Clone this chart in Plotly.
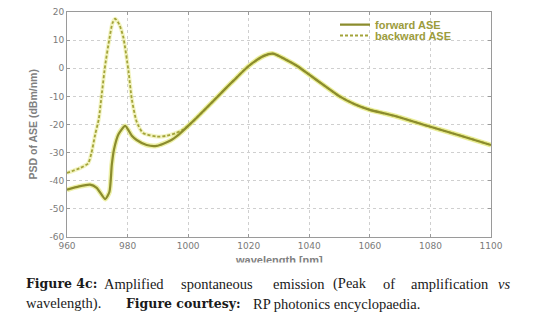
import plotly.graph_objects as go

# ---------------- data ----------------
wl_forward = [960, 964, 967.6, 969.8, 972.6, 974.0, 974.8, 975.5, 977.0, 979.2,
              981.4, 983.0, 986.3, 989.6, 994.0, 997.0, 1000, 1003, 1008, 1012,
              1015, 1020, 1025, 1028, 1032, 1036, 1040, 1045, 1050, 1055,
              1060, 1065, 1070, 1080, 1090, 1100]
psd_forward = [-43.2, -42.0, -41.4, -42.5, -46.5, -44.0, -34.3, -29.0, -23.5, -20.5,
               -24.0, -25.5, -27.3, -27.6, -25.8, -23.5, -20.5, -17.4, -12.0, -7.6,
               -4.4, 0.8, 4.4, 5.2, 3.2, 0.8, -2.3, -6.2, -10.0, -12.8,
               -14.8, -16.1, -17.5, -20.8, -24.0, -27.3]

wl_backward = [960, 964.3, 967.0, 968.1, 969.3, 970.5, 971.5, 972.6, 974.0, 975.0,
               975.9, 977.3, 978.6, 980.3, 981.4, 983.0, 985.1, 989.7, 993.0, 996.0,
               998.0, 1000, 1003, 1008, 1012, 1015, 1020, 1025, 1028, 1032,
               1036, 1040, 1045, 1050, 1055, 1060, 1065, 1070, 1080, 1090, 1100]
psd_backward = [-37.2, -35.5, -33.8, -30.0, -23.6, -18.0, -9.0, 1.0, 10.5, 16.0,
                17.6, 15.5, 11.0, -1.0, -11.0, -19.0, -23.0, -24.3, -24.0, -23.0,
                -22.0, -20.5, -17.4, -12.0, -7.6, -4.4, 0.8, 4.4, 5.2, 3.2,
                0.8, -2.3, -6.2, -10.0, -12.8, -14.8, -16.1, -17.5, -20.8, -24.0, -27.3]

x_ticks = [960, 980, 1000, 1020, 1040, 1060, 1080, 1100]
y_ticks = [-60, -50, -40, -30, -20, -10, 0, 10, 20]

series_names = ["forward ASE", "backward ASE"]
x_title = "wavelength [nm]"
y_title = "PSD of ASE (dBm/nm)"

# ---------------- layout geometry ----------------
W, H = 540, 326
L, R, T, B = 67, 491, 7, 237


def px(x):
    return (x - L) / (R - L)


def py(y):
    return (B - y) / (B - T)


fig = go.Figure()

# glow under the lines (jpeg-like halo)
fig.add_trace(go.Scatter(x=wl_backward, y=psd_backward, mode="lines", showlegend=False,
                         hoverinfo="skip", line=dict(color="rgba(232,234,140,0.55)", width=4, shape="spline", smoothing=0.6)))
fig.add_trace(go.Scatter(x=wl_forward, y=psd_forward, mode="lines", showlegend=False,
                         hoverinfo="skip", line=dict(color="rgba(225,230,110,0.6)", width=5, shape="spline", smoothing=0.6)))

fig.add_trace(go.Scatter(x=wl_backward, y=psd_backward, mode="lines", name="<b>" + series_names[1] + "</b>",
                         legend="legend2",
                         line=dict(color="#a3a43a", width=1.8, dash="3px,2px", shape="spline", smoothing=0.6)))
fig.add_trace(go.Scatter(x=wl_forward, y=psd_forward, mode="lines", name="<b>" + series_names[0] + "</b>",
                         legend="legend",
                         line=dict(color="#8b8c2d", width=2.2, shape="spline", smoothing=0.6)))

axis_common = dict(showgrid=True, gridcolor="#cfcfcf", griddash="dot", gridwidth=1,
                   showline=True, linecolor="#9a9a9a", linewidth=1, mirror="ticks",
                   ticks="inside", ticklen=3, tickcolor="#9a9a9a", zeroline=False,
                   tickfont=dict(family="DejaVu Sans", size=9, color="#7a7a7a"))

fig.update_xaxes(range=[960, 1100], tickvals=x_ticks, ticktext=[str(v) for v in x_ticks],
                 title=None, **axis_common)
fig.update_yaxes(range=[-60, 20], tickvals=y_ticks, ticktext=[str(v) for v in y_ticks],
                 title=None, **axis_common)

legend_font = dict(family="Liberation Sans", size=11, color="#9c9c3c")
fig.update_layout(
    width=W, height=H,
    margin=dict(l=L, r=W - R, t=T, b=H - B),
    paper_bgcolor="white", plot_bgcolor="white",
    showlegend=True,
    legend=dict(x=px(335), y=py(20), xanchor="left", yanchor="middle",
                bgcolor="rgba(0,0,0,0)", font=legend_font, itemwidth=30),
    legend2=dict(x=px(335), y=py(31), xanchor="left", yanchor="middle",
                 bgcolor="rgba(0,0,0,0)", font=legend_font, itemwidth=30),
)

ann = []
# axis titles
ann.append(dict(x=px(32), y=py(122), xref="paper", yref="paper", text="<b>" + y_title + "</b>",
                textangle=-90, showarrow=False, xanchor="center", yanchor="middle",
                font=dict(family="Liberation Sans", size=10.5, color="#808080")))
ann.append(dict(x=px(279), y=py(261), xref="paper", yref="paper", text="<b>" + x_title + "</b>",
                showarrow=False, xanchor="center", yanchor="middle",
                font=dict(family="Liberation Sans", size=11, color="#808080")))
# white strip that cuts the lower half of the x-axis title (as in the source image)
ann.append(dict(x=px(279), y=py(262.5), xref="paper", yref="paper", text=" ",
                showarrow=False, xanchor="center", yanchor="top", width=200, height=12,
                bgcolor="white", font=dict(size=6)))

# caption, word by word to mimic justified text
reg_font = dict(family="Liberation Serif", size=14.5, color="#1a1a1a")
bold_font = dict(family="DejaVu Serif", size=12.5, color="#1a1a1a")
line1 = [("<b>Figure 4c:</b>", 25, bold_font), ("Amplified", 103, reg_font), ("spontaneous", 180, reg_font),
         ("emission", 272, reg_font), ("(Peak", 332, reg_font), ("of", 382, reg_font),
         ("amplification", 410, reg_font), ("<i>vs</i>", 497, reg_font)]
line2 = [("wavelength).", 25, reg_font), ("<b>Figure courtesy:</b>", 125, bold_font),
         ("RP photonics encyclopaedia.", 252, reg_font)]
for row_y, row in ((285, line1), (305, line2)):
    for txt, xpix, f in row:
        ann.append(dict(x=px(xpix), y=py(row_y), xref="paper", yref="paper", text=txt, showarrow=False,
                        xanchor="left", yanchor="middle", borderpad=0, font=f))

fig.update_layout(annotations=ann)

fig.write_html("out.html",
               config={"displayModeBar": False, "staticPlot": False},
               post_script="document.body.style.margin='0';document.body.style.padding='0';"
                           "document.body.style.overflow='hidden';")
